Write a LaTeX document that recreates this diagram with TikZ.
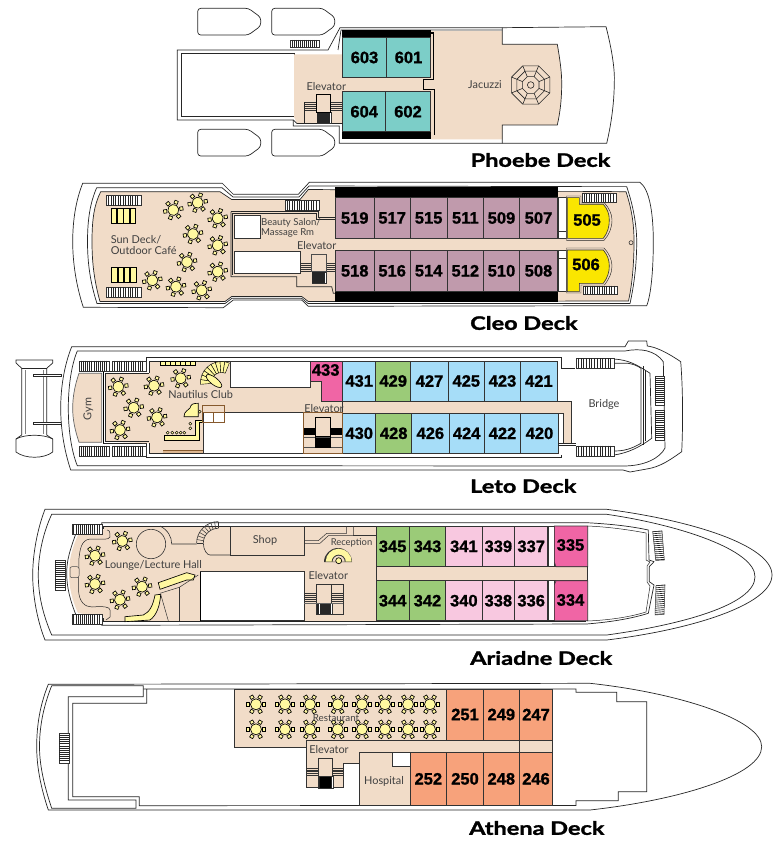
\documentclass[tikz,border=0pt]{standalone}
\usepackage{fontspec}
\setmainfont[BoldFeatures={FakeStretch=1.27,FakeBold=1.6}]{Lato}
\newfontfamily\roomfont[BoldFeatures={FakeBold=1.1}]{Liberation Sans}
\definecolor{decktan}{HTML}{F1DCC8}
\definecolor{teal6}{HTML}{7CCEC8}
\definecolor{mauve5}{HTML}{C09AAC}
\definecolor{sun5}{HTML}{FAE600}
\definecolor{sky4}{HTML}{A6DDF8}
\definecolor{green3}{HTML}{9BCB78}
\definecolor{hotpink}{HTML}{F065A5}
\definecolor{rose3}{HTML}{F8C8E0}
\definecolor{orange2}{HTML}{F7A27B}
\definecolor{tablecream}{HTML}{FFF8A0}
\tikzset{
  hull/.style={draw=black!85, line width=.7pt, fill=white},
  wall/.style={draw=black!85, line width=.7pt},
  heavy/.style={draw=black, line width=1.1pt},
  deck/.style={fill=decktan},
  room/.style={draw=black!80, line width=.6pt},
  roomno/.style={font=\roomfont\bfseries\fontsize{16.5}{17}\selectfont, text=black, inner sep=0pt},
  place/.style={font=\fontsize{10.9}{11.2}\selectfont, text=black!75, inner sep=0pt, align=left},
  title/.style={font=\bfseries\fontsize{18.5}{20}\selectfont, text=black, inner sep=0pt},
  yellowpart/.style={draw=black, line width=.65pt, fill=tablecream},
  dining/.pic={
    \foreach \a in {0,60,...,300}
      \filldraw[yellowpart, rotate=\a] (6.6,-1.7) rectangle (9.8,1.7);
    \filldraw[yellowpart] (0,0) circle (5.5);
  },
  lifeboat/.pic={
    \draw[wall, rounded corners=3pt] (0,0) -- (50.7,0) -- (63,9) -- (63,17.7) -- (50.7,26.7) -- (0,26.7) -- cycle;
  },
}
\newcommand{\treadsV}[4]{
  \filldraw[draw=black!80, fill=white, line width=.4pt] (#1,#2) rectangle (#3,#4);
  \foreach \t in {0.07,0.14,...,0.94}
    \draw[black!85, line width=.65pt] ({#1+\t*(#3-#1)},#2) -- ({#1+\t*(#3-#1)},#4);
}
\newcommand{\treadsH}[4]{
  \filldraw[draw=black!80, fill=white, line width=.4pt] (#1,#2) rectangle (#3,#4);
  \foreach \t in {0.07,0.14,...,0.94}
    \draw[black!85, line width=.65pt] (#1,{#2+\t*(#4-#2)}) -- (#3,{#2+\t*(#4-#2)});
}
\newcommand{\liftsteps}[6]{
  \foreach \t in {0,0.2,...,0.8}
    \draw[black!80, line width=.5pt] (#1,{#2+\t*(#3-#2)}) -- (#4,{#2+\t*(#3-#2)});
  \foreach \t in {0,0.2,...,0.8}
    \draw[black!80, line width=.5pt] (#5,{#2+\t*(#3-#2)}) -- (#6,{#2+\t*(#3-#2)});
}
\newcommand{\cabin}[6]{
  \filldraw[room, fill=#5] (#1,#2) rectangle (#3,#4);
  \node[roomno] (r#6) at ({(#1+#3)/2},{(#2+#4)/2}) {#6};
}
\begin{document}
\begin{tikzpicture}[x=1pt,y=-1pt]
\useasboundingbox (0,0) rectangle (772,842);

\pic at (197.7,8.3) {lifeboat};
\pic at (271.7,8.3) {lifeboat};
\pic at (197.7,129.3) {lifeboat};
\pic at (271.7,129.3) {lifeboat};
\draw[hull] (177.3,50) -- (328,50) -- (340,27.7) -- (502.3,27.7) -- (606,26.7) .. controls (612,50) and (615,70) .. (614.3,83.3) .. controls (614,105) and (611,125) .. (606.7,143.3) -- (339.3,143.3) -- (339.3,126) -- (293.3,126) -- (293.3,120) -- (177.3,120) -- cycle;
\draw[wall] (181.3,53.3) rectangle (294,116.7);
\draw[wall] (338,50) -- (341,30) -- (502.3,30);
\fill[deck] (294,54.3) -- (343,54.3) -- (343,123.5) -- (297,123.5) -- (294,116.7) -- cycle;
\fill[deck] (343,77) rectangle (431,92);
\fill[deck] (431,31) -- (502.3,31) -- (502.3,44.3) -- (557.3,44.3) .. controls (560,60) and (561.7,72) .. (561.7,83.3) .. controls (561.7,100) and (560,113) .. (557.3,125) -- (502.3,125) -- (502.3,139.3) -- (431,139.3) -- cycle;
\draw[wall] (502.3,27.7) -- (502.3,44.3) -- (557.3,44.3) .. controls (560,60) and (561.7,72) .. (561.7,83.3) .. controls (561.7,100) and (560,113) .. (557.3,125) -- (502.3,125) -- (502.3,143.3);
\fill[black] (341.7,30) rectangle (431,37.7);
\fill[black] (341.7,131.7) rectangle (431,139.3);
\cabin{342.7}{37.7}{386.3}{77.3}{teal6}{603}
\cabin{386.3}{37.7}{430.7}{77.3}{teal6}{601}
\cabin{342.7}{91.7}{385.7}{131.7}{teal6}{604}
\cabin{385.7}{91.7}{430.3}{131.7}{teal6}{602}
\draw[heavy] (431,33) -- (433.3,33) -- (433.3,79.3) -- (423.3,79.3) -- (423.3,89.3) -- (434.3,89.3) -- (434.3,135);
\draw[wall] (293.3,120) -- (297,123.5) -- (342.7,123.5);
\liftsteps{304}{102.3}{111.7}{316.7}{330.7}{342.7}
\draw[wall] (304,102.3) -- (304,123);
\treadsV{316.7}{112.3}{330.7}{123.3}
\filldraw[draw=black, line width=.9pt, fill=decktan] (316.7,94.3) rectangle (330.7,112.3);
\treadsV{290}{40}{318.7}{47.3}
\foreach \r in {20.7,15,9}
  \draw[black!85, line width=.6pt] ({530.7+\r*cos(22.5)},{85+\r*sin(22.5)}) -- ({530.7+\r*cos(67.5)},{85+\r*sin(67.5)}) -- ({530.7+\r*cos(112.5)},{85+\r*sin(112.5)}) -- ({530.7+\r*cos(157.5)},{85+\r*sin(157.5)}) -- ({530.7+\r*cos(202.5)},{85+\r*sin(202.5)}) -- ({530.7+\r*cos(247.5)},{85+\r*sin(247.5)}) -- ({530.7+\r*cos(292.5)},{85+\r*sin(292.5)}) -- ({530.7+\r*cos(337.5)},{85+\r*sin(337.5)}) -- cycle;
\foreach \a in {22.5,67.5,...,337.5}
  \draw[black!85, line width=.6pt] ({530.7+9*cos(\a)},{85+9*sin(\a)}) -- ({530.7+20.7*cos(\a)},{85+20.7*sin(\a)});
\draw[black!85, line width=.6pt] (530.7,85) circle (3.3);
\node[place] (jacuzzi) at (485,84.5) {Jacuzzi};
\node[place] (elev6) at (326.3,87) {Elevator};
\node[title, anchor=west] (phoebe) at (470.5,160) {Phoebe Deck};

\draw[hull] (82.7,183.3) -- (222.3,183.3) -- (233.3,194.3) -- (298.3,194.3) -- (309.3,182.3) -- (640,182.3) .. controls (650,190) and (653.3,215) .. (653.3,241.7) .. controls (653.3,270) and (651,295) .. (646.7,305.7) -- (308.3,306.3) -- (301.7,300) -- (233.3,300) -- (223.3,307.7) -- (83.3,307.3) .. controls (76,285) and (72.7,262) .. (72.7,241.7) .. controls (72.7,220) and (76,200) .. (82.7,183.3) -- cycle;
\draw[wall] (96.7,187.7) -- (222,187.7) -- (233,197) -- (299,197) -- (309,186) -- (626.7,186.7) .. controls (633,205) and (636.7,225) .. (636.7,241.7) .. controls (636.7,265) and (634,285) .. (630,303.5) -- (308,303.5) -- (301.7,298.3) -- (232,298.3) -- (225,303.5) -- (97,303.5) .. controls (90,282) and (87.5,262) .. (87.5,241.7) .. controls (87.5,220) and (90,203) .. (96.7,187.7);
\filldraw[wall, fill=decktan] (100.7,191.7) -- (220,191.7) -- (231.7,199.5) -- (300,199.5) -- (308.3,189.5) -- (626,191.7) .. controls (632,210) and (634,225) .. (634,241.7) .. controls (634,265) and (632,285) .. (628.5,301) -- (308.3,301.5) -- (301.7,296.5) -- (231.7,296.5) -- (225,301.5) -- (100,301.5) .. controls (94,280) and (92,262) .. (92,241.7) .. controls (92,220) and (94,205) .. (100.7,191.7) -- cycle;
\fill[white] (557.7,186.9) rectangle (626,191.4);
\draw[wall] (231,211.7) -- (318.3,211.7) -- (318.3,217.7) -- (335,217.7);
\draw[wall] (232.5,213.2) -- (316.8,213.2) -- (316.8,219.2) -- (335,219.2);
\draw[wall] (231,211.7) -- (231,276.7) -- (296.7,276.7) -- (296.7,286.7) -- (331.7,286.7) -- (333.3,293.3) -- (335,293.3);
\draw[wall] (232.5,213.2) -- (232.5,275.2);
\filldraw[room, fill=white] (234,215) rectangle (260,238.3);
\filldraw[room, fill=white] (234,251.7) rectangle (300.7,273.3);
\fill[black] (335,186.7) rectangle (557.7,197.7);
\fill[black] (335,291.7) rectangle (557.7,302.3);
\foreach \xa/\xb/\n in {335.5/374/519,374/410.3/517,410.3/447/515,447/483.7/511,483.7/519.3/509,519.3/557.7/507}
  \cabin{\xa}{197.7}{\xb}{238.3}{mauve5}{\n}
\foreach \xa/\xb/\n in {335.5/374/518,374/410.3/516,410.3/447/514,447/483.7/512,483.7/519.3/510,519.3/557.7/508}
  \cabin{\xa}{250}{\xb}{291.7}{mauve5}{\n}
\filldraw[room, fill=white] (558.3,197.7) rectangle (566.7,238.3);
\filldraw[room, fill=white] (558.3,250) rectangle (566.7,291.7);
\draw[room] (558.3,231.7) -- (566.7,231.7);
\draw[room] (558.3,258.3) -- (566.7,258.3);
\filldraw[wall, fill=decktan, line width=.45pt] (566.5,196) -- (581,196) -- (581,203) -- (604.5,203) .. controls (609,208) and (612,214) .. (612,220) .. controls (612,228) and (609,235) .. (604,240.3) -- (566.5,240.3) -- cycle;
\filldraw[wall, fill=decktan, line width=.45pt] (566.5,248) -- (604,248) .. controls (609,253) and (612,260) .. (612,266) .. controls (612,273) and (609,279) .. (604.5,285) -- (581,285) -- (581,293) -- (566.5,293) -- cycle;
\filldraw[room, fill=sun5] (567.3,197.7) -- (579.3,197.7) -- (579.3,204.3) -- (603.3,204.3) .. controls (607.5,209) and (609.3,214) .. (609.3,220) .. controls (609.3,227) and (607.5,233) .. (603.3,238.3) -- (567.3,238.3) -- cycle;
\filldraw[room, fill=sun5] (567.3,250) -- (603.3,250) .. controls (607.5,255) and (609.3,260) .. (609.3,266) .. controls (609.3,272) and (607.5,278) .. (603.3,283.3) -- (579.3,283.3) -- (579.3,291.7) -- (567.3,291.7) -- cycle;
\node[roomno] (r505) at (587,220) {505};
\node[roomno] (r506) at (586,264.5) {506};
\treadsV{582}{193.7}{616}{202.3}
\treadsV{582.7}{285.7}{617}{294.3}
\treadsV{106}{195.7}{140.7}{205.7}
\treadsV{106}{287.3}{140.7}{297.3}
\treadsV{285}{200.7}{319}{210.7}
\foreach \x in {111,117.3,123.6,129.9}
  \filldraw[yellowpart, line width=.5pt] (\x,208.3) rectangle ++(5.6,15);
\foreach \x in {111.7,117.9,124.1,130.3}
  \filldraw[yellowpart, line width=.5pt] (\x,267.3) rectangle ++(5.6,15);
\foreach \x/\y in {173.3/210,197.7/202.7,217.7/218.3,193/234,217.7/245.3,187/262,217.7/271.7,152.3/280.3,176/286.7,201.7/290.3}
  \pic[rotate=10] at (\x,\y) {dining};
\draw[black!80, line width=.6pt] (631,242.7) circle (2);
\liftsteps{300.7}{263.3}{273.3}{311.7}{326.7}{335.3}
\treadsV{311.7}{272.3}{326}{283.3}
\filldraw[draw=black!70, line width=.9pt, fill=decktan] (311.7,254) rectangle (326.7,271.7);
\node[place, anchor=west] (sundeck) at (110.6,245) {Sun Deck/\\Outdoor Café};
\node[place, anchor=west, font=\fontsize{9.6}{10}\selectfont] (salon) at (261,228) {Beauty Salon/\\Massage Rm};
\node[place] (elev5) at (316.7,246) {Elevator};
\node[title, anchor=west] (cleo) at (470,323) {Cleo Deck};

\draw[wall] (16,360) -- (52.7,360) -- (52.7,363) -- (46.7,368.3) -- (46.7,435) -- (52.7,439) -- (52.7,452) .. controls (44,459) and (25,459) .. (16,452) -- (16,439) -- (21.7,435) -- (21.7,368.3) -- (16,363) -- cycle;
\draw[wall] (21.7,368.3) -- (46.7,368.3);
\draw[wall] (16,439) .. controls (25,434) and (44,434) .. (52.7,439);
\draw[black!50, line width=.5pt] (25,370) -- (25,434);
\draw[black!50, line width=.5pt] (43,370) -- (43,434);
\filldraw[wall, fill=white, line width=.5pt] (33.3,374) rectangle (61,376.3);
\filldraw[wall, fill=white, line width=.5pt] (33.3,422.7) rectangle (61,424.7);
\draw[hull] (71.7,346.7) -- (625,346.7) -- (628.3,341) -- (646.7,341) -- (647.3,346) .. controls (655,347) and (665,351) .. (680.7,361.7) .. controls (683,390) and (683,425) .. (681.7,451.7) .. controls (670,460) and (660,467) .. (646.7,469) -- (630,472) -- (623,470) -- (70.7,470) .. controls (64,450) and (60.7,428) .. (60.7,408.3) .. controls (60.7,388) and (64,366) .. (71.7,346.7) -- cycle;
\draw[wall] (77.3,351) -- (625,351) .. controls (640,348) and (655,350) .. (663.3,361.7) -- (665,448) .. controls (660,458) and (645,466) .. (623.3,466) -- (77.3,465.7) .. controls (71,450) and (68.3,428) .. (68.3,408.3) .. controls (68.3,388) and (71,366) .. (77.3,351) -- cycle;
\draw[wall] (146,371.7) -- (146,357.7) -- (561.7,357.7) -- (561.7,368.3) -- (575,368.3);
\draw[wall] (146,443.3) -- (146,457.7) -- (561.7,457.7) -- (561.7,455);
\draw[wall] (614,359) .. controls (628,360) and (636,364) .. (650,373.3) -- (651.7,438.3) .. controls (640,447) and (628,453) .. (614,455);
\draw[wall] (103.3,371.7) -- (146,371.7);
\draw[wall] (103.3,443.3) -- (146,443.3);
\draw[heavy] (103.3,371.7) -- (103.3,443.3);
\filldraw[wall, draw=black!60, fill=decktan] (79,373.3) -- (101.7,373.3) -- (101.7,442.3) -- (79,442.3) .. controls (75,430) and (72.7,420) .. (72.7,408.3) .. controls (72.7,396) and (75,385) .. (79,373.3) -- cycle;
\fill[deck] (149,361) -- (342.3,361) -- (342.3,453.3) -- (149,453.3) -- (149,443.3) -- (105,441.5) -- (105,373.3) -- (149,373.3) -- cycle;
\draw[wall, line width=.5pt] (149,361) -- (342.3,361);
\draw[wall, line width=.5pt] (149,361) -- (149,373.3);
\draw[wall, line width=.5pt] (149,443.3) -- (149,453.3) -- (342.3,453.3);
\draw[wall, line width=.5pt] (105,373.3) -- (149,373.3);
\draw[wall, line width=.5pt] (105,373.3) -- (105,441.5) -- (149,441.5);
\filldraw[room, fill=decktan] (342,401) rectangle (571.7,443.3);
\fill[white] (558.3,413.3) -- (563.3,413.3) -- (563.3,443) -- (558.3,443) -- cycle;
\draw[room] (342,413.3) -- (563.3,413.3) -- (563.3,443.3);
\filldraw[room, fill=white] (230.7,361) rectangle (310,387.7);
\filldraw[room, fill=white] (203.3,412.7) rectangle (303.3,453.3);
\filldraw[room, fill=hotpink] (310,361.7) -- (342.3,361.7) -- (342.3,401) -- (321.7,401) -- (321.7,381.7) -- (310,381.7) -- cycle;
\node[roomno] (r433) at (325.7,370) {433};
\cabin{342.7}{361}{375.7}{401}{sky4}{431}
\cabin{375.7}{361}{410.7}{401}{green3}{429}
\cabin{410.7}{361}{448.3}{401}{sky4}{427}
\cabin{448.3}{361}{484.3}{401}{sky4}{425}
\cabin{484.3}{361}{520.7}{401}{sky4}{423}
\cabin{520.7}{361}{557}{401}{sky4}{421}
\cabin{342.7}{413.3}{375.7}{453.3}{sky4}{430}
\cabin{375.7}{413.3}{411.7}{453.3}{green3}{428}
\cabin{411.7}{413.3}{449}{453.3}{sky4}{426}
\cabin{449}{413.3}{484.3}{453.3}{sky4}{424}
\cabin{484.3}{413.3}{520.7}{453.3}{sky4}{422}
\cabin{520.7}{413.3}{558.3}{453.3}{sky4}{420}
\draw[wall] (558.3,443.3) -- (575.7,443.3);
\draw[wall] (558.3,445.7) -- (575.7,445.7);
\draw[wall] (615,363.3) -- (628,363.3) .. controls (633,364) and (638,366) .. (641,368.3) -- (641,443.3) .. controls (636,446) and (628,451) .. (615,451);
\draw[wall] (643.5,366) -- (643.5,445);
\draw[wall] (645,370) -- (645,441);
\treadsV{575.7}{358.3}{614}{368.3}
\treadsV{575.7}{445.7}{614}{455.7}
\treadsH{655}{376}{664}{405}
\treadsH{655}{410.3}{664}{440}
\treadsV{79}{360.7}{109.3}{370.7}
\treadsV{112.3}{360.7}{145.7}{370.7}
\treadsV{79}{445.7}{109.3}{455.7}
\treadsV{112.3}{445.7}{145.7}{455.7}
\foreach \x/\y in {118.3/386.7,154/385.7,180.7/378.3,133.7/407.7,157/417.3,120/430}
  \pic[rotate=8] at (\x,\y) {dining};
\foreach \x in {160,165,170,175,180,185,190}
  \filldraw[yellowpart, line width=.4pt] (\x,361.3) rectangle ++(4.8,4.2);
\foreach \a in {175,188,...,280}
  \filldraw[yellowpart, line width=.4pt] ({221.5+10*cos(\a)},{382.5+10*sin(\a)}) -- ({221.5+21*cos(\a)},{382.5+21*sin(\a)}) -- ({221.5+21*cos(\a+13)},{382.5+21*sin(\a+13)}) -- ({221.5+10*cos(\a+13)},{382.5+10*sin(\a+13)}) -- cycle;
\filldraw[yellowpart, rotate around={-38:(214,381)}] (214,381) ellipse (9.5 and 3.6);
\filldraw[yellowpart] (164,435.7) -- (195,435.7) -- (195,420) -- (202.3,420) -- (202.3,422.7) -- (199,422.7) -- (199,440) -- (164,440) -- cycle;
\foreach \x/\y in {167.7/432.7,172.3/432.7,176.7/432.7,180.7/432.7,184.3/432.7,190.3/423.7,190.3/428.3,199.7/411.7}
  \filldraw[yellowpart, line width=.4pt] (\x,\y) circle (1.5);
\filldraw[yellowpart] (184,416.7) .. controls (184,411) and (188,411) .. (190,408) .. controls (191,404) and (193,403.3) .. (198.3,403.3) -- (198.3,416.7) -- cycle;
\draw[brown!70!black, line width=.6pt] (202.3,405.7) rectangle (224,422.3);
\draw[brown!70!black, line width=.6pt] (202.3,412.7) -- (224,412.7);
\draw[brown!70!black, line width=.6pt] (213.7,412.7) -- (213.7,422.3);
\fill[brown!40!decktan] (163.3,450) rectangle (202.7,453);
\draw[brown!70!black, line width=.4pt] (163.3,450) -- (202.7,450);
\draw[brown!70!black, line width=.5pt] (303.3,412.7) rectangle (342.3,453.3);
\fill[black] (304,427.7) rectangle (315.7,435);
\fill[black] (330.7,427.7) rectangle (342.3,435);
\fill[black] (315.7,435.7) rectangle (330.7,447.7);
\draw[black!70, line width=.5pt] (304,437.7) -- (342.3,437.7);
\draw[black!70, line width=.5pt] (304,447.7) -- (342.3,447.7);
\draw[black, line width=1pt] (315.7,417.7) rectangle (330.7,447.7);
\node[place, rotate=90] (gym) at (88.3,409) {Gym};
\node[place] (club) at (200.7,395) {Nautilus Club};
\node[place] (elev4) at (324,409) {Elevator};
\node[place] (bridge) at (604,404) {Bridge};
\node[title, anchor=west] (leto) at (470,486) {Leto Deck};

\draw[hull] (45,509.3) -- (606.7,509.3) .. controls (690,520) and (772,545) .. (772,575) .. controls (772,605) and (690,630) .. (606.7,640) -- (45,640) .. controls (37,620) and (32.7,595) .. (32.7,575) .. controls (32.7,555) and (37,530) .. (45,509.3) -- cycle;
\draw[wall] (51.7,514.3) -- (606.7,514.3) .. controls (680,525) and (755,550) .. (755,576.7) .. controls (755,605) and (680,625) .. (606.7,635) -- (51.7,635) .. controls (43,615) and (38.3,595) .. (38.3,575) .. controls (38.3,555) and (43,533) .. (51.7,514.3) -- cycle;
\draw[wall] (101.7,533.3) -- (101.7,522.7) -- (586.7,522.7) .. controls (610,524) and (630,526) .. (648.3,530) -- (649,560) -- (654,561.7) -- (649.3,566.7) -- (649.3,581.7) -- (654,585) -- (648.3,613.3) .. controls (630,619) and (610,622) .. (586.7,624) -- (101.7,625.3) -- (101.7,615);
\draw[wall] (101.7,533.3) -- (76,533.3) .. controls (70,550) and (66.7,560) .. (66.7,573.3) .. controls (66.7,587) and (70,600) .. (76,615) -- (101.7,615);
\fill[deck] (103.3,526) -- (376,526) -- (376,621) -- (103.3,621) -- (103.3,617) -- (78,613) .. controls (72,600) and (69,587) .. (69,573.3) .. controls (69,560) and (72,548) .. (78,535) -- (103.3,530) -- cycle;
\draw[wall, line width=.5pt] (103.3,526) -- (586,526);
\draw[wall, line width=.5pt] (103.3,621) -- (586,621);
\draw[wall, line width=.5pt] (103.3,526) -- (103.3,529);
\draw[wall, line width=.5pt] (103.3,621) -- (103.3,618);
\draw[wall, line width=.5pt] (107,530) .. controls (110,530) and (110,533) .. (110,537) .. controls (109,540) and (102,539) .. (90,539) .. controls (81,540) and (80,550) .. (79,558) -- (78.5,590) .. controls (79,602) and (85,607) .. (92,607) .. controls (104,606) and (110,607) .. (110,610) -- (110,617) -- (106,620);
\filldraw[draw=black!70, line width=.5pt, fill=decktan, rounded corners=2pt] (70,566.7) rectangle (79,577.7);
\treadsV{71.7}{524.3}{101.7}{534}
\treadsV{71.7}{614.3}{101.7}{624.3}
\treadsH{55}{560}{65}{590}
\filldraw[room, fill=decktan] (376,566.7) rectangle (587.7,580.7);
\filldraw[room, fill=white] (200,571.7) rectangle (304.3,620.7);
\draw[black, line width=1pt] (200,571.7) -- (200,620.7);
\draw[black!80, line width=.6pt] (151,544) circle (14.7);
\draw[black!80, line width=.6pt] (160,526) .. controls (168,530) and (171.7,537) .. (171.7,544) -- (196.7,544);
\foreach \a in {180,190,...,270}
  \draw[black!80, line width=.5pt] ({218.3+15*cos(\a)},{543.3+15*sin(\a)}) -- ({218.3+21.7*cos(\a)},{543.3+21.7*sin(\a)});
\draw[black!80, line width=.6pt] (196.6,543.3) arc[start angle=180, end angle=270, radius=21.7];
\draw[black!80, line width=.6pt] (203.3,543.3) arc[start angle=180, end angle=270, radius=15];
\draw[black!80, line width=.6pt] (203.3,543.3) .. controls (203.5,550) and (207,555) .. (210,555) -- (230,555);
\draw[black!80, line width=.8pt] (230,526) rectangle (304.3,555);
\draw[black!80, line width=.5pt] (305,540.7) -- (318.3,540.7) -- (326.7,533.3) -- (346.7,533.3) -- (346.7,526);
\draw[black!80, line width=.5pt] (305,543.3) -- (320,543.3) -- (328.3,535.7) -- (353.3,535.7) -- (353.3,526);
\draw[black!80, line width=.5pt] (353.3,535.7) -- (376,535.7);
\fill[black!80] (338,560) ++(-14,2) arc[start angle=180, end angle=360, radius=14] -- cycle;
\fill[tablecream] (338.7,562) ++(-13,-.3) arc[start angle=180, end angle=360, radius=13] -- cycle;
\fill[black!80] (338.7,561.7) ++(-7,0) arc[start angle=180, end angle=360, radius=7] -- cycle;
\fill[decktan] (338.7,561.7) ++(-6,0) arc[start angle=180, end angle=360, radius=6] -- cycle;
\filldraw[yellowpart] (338.7,560.7) circle (3);
\filldraw[yellowpart] (158.3,582.7) -- (186.7,572.7) -- (195,575) -- (193.3,580) -- (186.7,580) -- (160,589.3) -- cycle;
\filldraw[yellowpart] (155,595) -- (160.7,594.3) .. controls (160,605) and (157,615) .. (150,620) -- (125,621.7) -- (125,616.7) -- (143.3,615) .. controls (150,612) and (153,605) .. (155,595) -- cycle;
\draw[black!80, line width=.5pt] (160.7,594.3) -- (168.3,620.7);
\draw[black!80, line width=.5pt] (160,593.3) -- (179.3,587.3) -- (198.3,575);
\draw[black!80, line width=.5pt] (179.3,587.3) -- (179.3,620.7);
\foreach \x/\y in {122.3/541,95/555.7,95/584,142/586.7,120/599.7}
  \pic[rotate=8] at (\x,\y) {dining};
\draw[black!80, line width=.5pt] (316.7,584.3) rectangle (343.3,614);
\draw[black!80, line width=.5pt] (316.7,584.3) rectangle (331.7,603.3);
\liftsteps{304.3}{593.3}{603.3}{316.7}{331.7}{343.3}
\treadsV{316.7}{603.3}{331.7}{614}
\draw[black!60, line width=.4pt] (304.3,603.3) -- (343.3,603.3);
\cabin{376}{526}{409.3}{566.7}{green3}{345}
\cabin{409.3}{526}{445.7}{566.7}{green3}{343}
\cabin{445.7}{526}{482}{566.7}{rose3}{341}
\cabin{482}{526}{514.7}{566.7}{rose3}{339}
\cabin{514.7}{526}{547.7}{566.7}{rose3}{337}
\cabin{376}{580.7}{409.3}{620.7}{green3}{344}
\cabin{409.3}{580.7}{445.7}{620.7}{green3}{342}
\cabin{445.7}{580.7}{482}{620.7}{rose3}{340}
\cabin{482}{580.7}{514.7}{620.7}{rose3}{338}
\cabin{514.7}{580.7}{547.7}{620.7}{rose3}{336}
\filldraw[room, fill=white] (548.3,526) rectangle (554.3,566.7);
\filldraw[room, fill=white] (548.3,580.7) rectangle (554.3,620.7);
\filldraw[room, fill=hotpink] (554.3,526) -- (587.7,526) -- (587.7,566.7) -- (556,566.7) -- (554.3,562) -- cycle;
\filldraw[room, fill=hotpink] (556,580.7) -- (587.7,580.7) -- (587.7,620.7) -- (554.3,620.7) -- (554.3,585) -- cycle;
\node[roomno] (r335) at (570.5,545) {335};
\node[roomno] (r334) at (570.5,600) {334};
\draw[wall, line width=.5pt] (587.7,526) .. controls (610,527) and (630,530) .. (646,533) -- (646,560) -- (650,562) -- (647,566) -- (647,582) -- (650,586) -- (646,612) .. controls (630,617) and (610,620) .. (587.7,621);
\foreach \t in {0,0.07,...,1}
  \draw[black!85, line width=.65pt] ({652.7+\t*3},{531.7+\t*28.7}) -- ({662+\t*2.3},{531+\t*29});
\draw[black!80, line width=.5pt] (652.7,531.7) -- (662,531) -- (664.3,560) -- (655.7,560.4) -- cycle;
\foreach \t in {0,0.07,...,1}
  \draw[black!85, line width=.65pt] ({656-\t*1},{585.7+\t*29.3}) -- ({665-\t*1},{585+\t*29.3});
\draw[black!80, line width=.5pt] (656,585.7) -- (665,585) -- (664,614.3) -- (655,615) -- cycle;
\node[place] (lounge) at (153.3,565.3) {Lounge/Lecture Hall};
\node[place] (shop) at (265,540) {Shop};
\node[place, font=\fontsize{9.4}{10}\selectfont] (reception) at (351.5,542.7) {Reception};
\node[place] (elev3) at (328.3,576) {Elevator};
\node[title, anchor=west] (ariadne) at (470,658) {Ariadne Deck};

\draw[hull] (48.3,684.3) -- (590,683.3) .. controls (680,693) and (761.7,720) .. (761.7,746.7) .. controls (761.7,775) and (680,800) .. (590,810) -- (48.3,810) .. controls (40,785) and (36.7,765) .. (36.7,746.7) .. controls (36.7,725) and (40,705) .. (48.3,684.3) -- cycle;
\draw[wall] (51.7,685.7) -- (143.3,685.7) -- (143.3,696.7) -- (68.3,696.7) -- (68.3,800) -- (136,800) -- (136,808.3) -- (51.7,808.3) .. controls (44,785) and (39.5,765) .. (39.5,746.7) .. controls (39.5,725) and (44,705) .. (51.7,685.7);
\draw[wall] (143.3,689) -- (146.7,689) -- (146.7,703.3) -- (72.7,703.3) -- (72.7,796.7) -- (139.3,796.7) -- (139.3,805.7) -- (576,805.4) -- (576,800.7) -- (618.3,800.7) -- (618.3,791.7) -- (646.7,791.7) -- (646.7,701.7) -- (616.7,701.7) -- (616.7,692.3) -- (576,692.3) -- (576,689) -- cycle;
\filldraw[room, fill=decktan] (234.3,689) -- (446.7,689) -- (446.7,740) -- (552.7,740) -- (552.7,752.3) -- (359,752.3) -- (359,763.3) -- (343.3,763.3) -- (343.3,787.7) -- (306,787.7) -- (306,747.3) -- (234.3,747.3) -- cycle;
\draw[room] (306,747.3) -- (306,740) -- (446.7,740);
\filldraw[room, fill=decktan] (359,752.3) rectangle (410,805.7);
\filldraw[room, fill=white] (392.7,752.3) rectangle (410,766.7);
\foreach \x in {256,285,310,337.7,362,385,408,430}
  \foreach \y in {704.3,729.3}
    \pic at (\x,\y) {dining};
\cabin{446.7}{689}{483.3}{740}{orange2}{251}
\cabin{483.3}{689}{519.3}{740}{orange2}{249}
\cabin{519.3}{689}{552.7}{740}{orange2}{247}
\cabin{410}{752.3}{446.7}{805.4}{orange2}{252}
\cabin{446.7}{752.3}{483.3}{805.4}{orange2}{250}
\cabin{483.3}{752.3}{519.3}{805.4}{orange2}{248}
\cabin{519.3}{752.3}{552.7}{805.4}{orange2}{246}
\draw[room] (519.3,740) -- (519.3,752.3);
\liftsteps{306}{768.3}{776.7}{318.3}{332.7}{343.3}
\treadsV{318.3}{776}{332.7}{787.7}
\fill[black] (320,777) rectangle (331,787.7);
\filldraw[draw=black!80, line width=.8pt, fill=decktan] (318.3,758.3) rectangle (332.7,776);
\treadsH{59.3}{733.3}{69.3}{763.3}
\node[place, font=\fontsize{9.8}{10}\selectfont] (restaurant) at (336,717.7) {Restaurant};
\node[place] (elev2) at (329,750) {Elevator};
\node[place] (hospital) at (384,781) {Hospital};
\node[title, anchor=west] (athena) at (469,828) {Athena Deck};
\end{tikzpicture}
\end{document}
